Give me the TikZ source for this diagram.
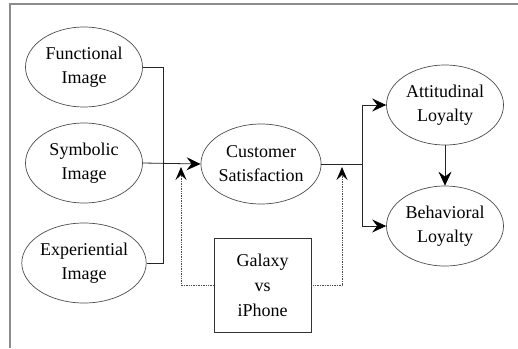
\documentclass[tikz,border=0pt]{standalone}
\usepackage{fontspec}
\setmainfont{Liberation Serif}
\usetikzlibrary{shapes.geometric,arrows.meta}
\begin{document}
\begin{tikzpicture}[x=1pt,y=-1pt,
  oval/.style={ellipse,draw=black!70,line width=0.7pt,minimum width=117pt,minimum height=80pt,inner sep=0pt,align=center,font=\fontsize{18}{24}\selectfont},
  boxnode/.style={rectangle,draw=black!80,line width=0.8pt,minimum width=97pt,minimum height=94pt,inner sep=0pt,align=center,font=\fontsize{18}{25}\selectfont},
  conn/.style={draw=black!85,line width=0.8pt},
  arr/.style={conn,-{Stealth[length=14pt,width=13pt,inset=5pt,color=black]}},
  dots/.style={draw=black!70,line width=0.7pt,densely dotted,-{Stealth[length=13pt,width=11pt,inset=5pt,color=black]}},
  frame/.style={draw=black!45,line width=1.3pt}]
\useasboundingbox (0,0) rectangle (518,348);
\draw[frame] (10,348) -- (10,4) -- (518,4);
\node[oval] (func) at (84,67) {Functional\\Image};
\node[oval] (sym) at (84,163) {Symbolic\\Image};
\node[oval] (exp) at (84,263) {Experiential\\Image};
\node[oval] (cust) at (261,164) {Customer\\Satisfaction};
\node[oval] (att) at (445,105) {Attitudinal\\Loyalty};
\node[oval] (beh) at (445,226) {Behavioral\\Loyalty};
\node[boxnode] (box) at (262.5,285) {Galaxy\\vs\\iPhone};
\coordinate (j1) at (163,164);
\coordinate (j2) at (362,164);
\coordinate (d1) at (181,167);
\coordinate (d2) at (342,167);
\draw[conn] (func.east) -| (j1);
\draw[conn] (exp.east) -| (j1);
\draw[arr] (sym.east) -- (cust.west);
\draw[conn] (cust.east) -- (j2);
\draw[arr] (j2) |- (att.west);
\draw[arr] (j2) |- (beh.west);
\draw[arr] (att.south) -- (beh.north);
\draw[dots] (box.west) -| (d1);
\draw[dots] (box.east) -| (d2);
\end{tikzpicture}
\end{document}
